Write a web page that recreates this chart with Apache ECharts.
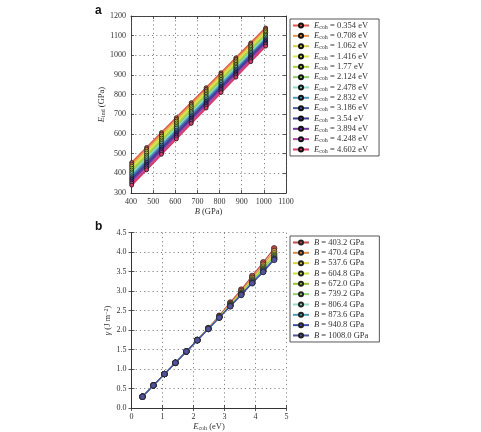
<!DOCTYPE html>
<html>
<head>
<meta charset="utf-8">
<script src="https://cdn.jsdelivr.net/npm/echarts@6/dist/echarts.min.js"></script>
<style>
  html, body { margin: 0; padding: 0; background: #fff; }
  #chart { width: 481px; height: 432px; }
</style>
</head>
<body>
<div id="chart"></div>
<script>
// panel a: indentation modulus vs bulk modulus, one series per cohesive energy
const bulkModuli = [403.2, 470.4, 537.6, 604.8, 672.0, 739.2, 806.4, 873.6, 940.8, 1008.0]
const cohLabels = ['0.354', '0.708', '1.062', '1.416', '1.77', '2.124', '2.478', '2.832', '3.186', '3.54', '3.894', '4.248', '4.602']
const eIndValues = [
  [455, 531, 607, 683, 759, 835, 911, 987, 1063, 1139],
  [445, 522, 598, 674, 750, 826, 903, 979, 1055, 1131],
  [436, 512, 589, 665, 742, 818, 894, 971, 1047, 1124],
  [426, 503, 579, 656, 733, 809, 886, 962, 1039, 1116],
  [417, 493, 570, 647, 724, 801, 878, 954, 1031, 1108],
  [407, 484, 561, 638, 715, 792, 869, 946, 1023, 1101],
  [398, 474, 552, 629, 707, 784, 861, 938, 1015, 1093],
  [388, 465, 543, 620, 698, 775, 853, 930, 1008, 1085],
  [378, 456, 534, 611, 689, 766, 844, 922, 1000, 1078],
  [369, 446, 524, 602, 680, 758, 836, 913, 992, 1070],
  [359, 437, 515, 593, 671, 749, 828, 905, 984, 1062],
  [350, 427, 506, 584, 663, 741, 819, 897, 976, 1055],
  [340, 418, 497, 575, 654, 732, 811, 889, 968, 1047]
]
const cohColors = ['#de5a4c', '#ec9048', '#d8d04a', '#dce84c', '#acd43c', '#8ecc6c', '#8edac8',
  '#4c9cc2', '#4a5ca4', '#3c3c92', '#7034a2', '#b84aa2', '#d83c68']

// panel b: surface energy vs cohesive energy, one series per bulk modulus
const cohEnergies = [0.354, 0.708, 1.062, 1.416, 1.77, 2.124, 2.478, 2.832, 3.186, 3.54, 3.894, 4.248, 4.602]
const bLabels = ['403.2', '470.4', '537.6', '604.8', '672.0', '739.2', '806.4', '873.6', '940.8', '1008.0']
const gammaValues = [
  [0.29, 0.58, 0.87, 1.16, 1.45, 1.75, 2.05, 2.37, 2.71, 3.04, 3.39, 3.74, 4.10],
  [0.29, 0.58, 0.87, 1.16, 1.45, 1.75, 2.05, 2.35, 2.68, 3.00, 3.34, 3.68, 4.03],
  [0.29, 0.58, 0.87, 1.16, 1.45, 1.74, 2.04, 2.34, 2.66, 2.97, 3.30, 3.63, 3.97],
  [0.29, 0.58, 0.87, 1.16, 1.45, 1.74, 2.04, 2.34, 2.65, 2.95, 3.28, 3.60, 3.93],
  [0.29, 0.58, 0.87, 1.16, 1.45, 1.74, 2.04, 2.33, 2.64, 2.94, 3.26, 3.57, 3.90],
  [0.29, 0.58, 0.87, 1.16, 1.45, 1.74, 2.03, 2.33, 2.63, 2.93, 3.24, 3.55, 3.87],
  [0.29, 0.58, 0.87, 1.16, 1.45, 1.74, 2.03, 2.33, 2.62, 2.92, 3.23, 3.53, 3.85],
  [0.29, 0.58, 0.87, 1.16, 1.45, 1.74, 2.03, 2.32, 2.62, 2.91, 3.22, 3.52, 3.83],
  [0.29, 0.58, 0.87, 1.16, 1.45, 1.74, 2.03, 2.32, 2.61, 2.91, 3.21, 3.50, 3.82],
  [0.29, 0.58, 0.87, 1.16, 1.45, 1.74, 2.03, 2.32, 2.61, 2.90, 3.20, 3.49, 3.80]
]
const bColors = ['#c24a48', '#e08a45', '#d8d142', '#cde245', '#97c236', '#94d06e', '#94d8c8',
  '#4a9db0', '#3c4fae', '#52529e']

const serif = 'Liberation Serif'
const gridLine = { show: true, lineStyle: { color: '#666', width: 0.8, type: [1.2, 3] } }
const frame = { show: true, lineStyle: { color: '#333', width: 0.9 } }
const label = { fontFamily: serif, fontSize: 8, color: '#333' }
const rich = {
  i: { fontFamily: serif, fontStyle: 'italic', fontSize: 8.5, lineHeight: 9, color: '#333' },
  s: { fontFamily: serif, fontSize: 6, lineHeight: 6, color: '#333', padding: [3, 0, 0, 0] },
  p: { fontFamily: serif, fontSize: 6, lineHeight: 6, color: '#333', padding: [0, 0, 3, 0] },
  t: { fontFamily: serif, fontSize: 8.5, lineHeight: 9, color: '#333' }
}
const baseText = { fontFamily: serif, fontSize: 8.5, lineHeight: 9, color: '#333', rich: rich }

function valueAxis(grid, pos, min, max, step, showLabel, digits) {
  return {
    type: 'value', gridIndex: grid, position: pos, min: min, max: max, interval: step,
    axisLine: frame,
    axisTick: { show: true, inside: true, length: 3, lineStyle: { color: '#333', width: 0.8 } },
    axisLabel: showLabel ? Object.assign({ margin: 5, formatter: v => digits ? v.toFixed(digits) : v }, label) : { show: false },
    splitLine: showLabel ? gridLine : { show: false }
  }
}

const series = []
cohLabels.forEach((name, k) => {
  series.push({
    name: name, type: 'line', xAxisIndex: 0, yAxisIndex: 0,
    data: bulkModuli.map((b, i) => [b, eIndValues[k][i]]),
    symbol: 'circle', symbolSize: 4,
    lineStyle: { width: 1.8, color: cohColors[k] },
    itemStyle: { color: cohColors[k], borderColor: '#111', borderWidth: 0.8 }
  })
})
bLabels.forEach((name, j) => {
  series.push({
    name: name, type: 'line', xAxisIndex: 2, yAxisIndex: 2,
    data: cohEnergies.map((e, k) => [e, gammaValues[j][k]]),
    symbol: 'circle', symbolSize: 5.5,
    lineStyle: { width: 1.2, color: bColors[j] },
    itemStyle: { color: bColors[j], borderColor: '#222', borderWidth: 0.7 }
  })
})

const legendBase = {
  orient: 'vertical', left: 290, selectedMode: false,
  itemWidth: 16, itemHeight: 5, itemGap: 1.33,
  backgroundColor: '#fff', borderColor: '#444', borderWidth: 0.9,
  textStyle: baseText
}

const option = {
  animation: false,
  backgroundColor: '#fff',
  grid: [
    { left: 131, top: 16, width: 155, height: 177, show: false },
    { left: 131.5, top: 232.7, width: 155, height: 176.6, show: false }
  ],
  xAxis: [
    Object.assign(valueAxis(0, 'bottom', 400, 1100, 100, true, 0), {
      name: '{i|B} {t|(GPa)}', nameLocation: 'middle', nameGap: 12, nameTextStyle: baseText
    }),
    valueAxis(0, 'top', 400, 1100, 100, false),
    Object.assign(valueAxis(1, 'bottom', 0, 5, 1, true, 0), {
      name: '{i|E}{s|coh} {t|(eV)}', nameLocation: 'middle', nameGap: 14, nameTextStyle: baseText
    }),
    valueAxis(1, 'top', 0, 5, 1, false)
  ],
  yAxis: [
    Object.assign(valueAxis(0, 'left', 300, 1200, 100, true, 0), {
      name: '{i|E}{s|ind} {t|(GPa)}', nameLocation: 'middle', nameGap: 24, nameTextStyle: baseText
    }),
    valueAxis(0, 'right', 300, 1200, 100, false),
    Object.assign(valueAxis(1, 'left', 0, 4.5, 0.5, true, 1), {
      name: '{i|γ} {t|(J m}{p|−2}{t|)}', nameLocation: 'middle', nameGap: 17, nameTextStyle: baseText
    }),
    valueAxis(1, 'right', 0, 4.5, 0.5, false)
  ],
  legend: [
    Object.assign({}, legendBase, {
      top: 19, padding: [2, 11, 2, 2], data: cohLabels,
      formatter: n => '{i|E}{s|coh} {t|= ' + n + ' eV}'
    }),
    Object.assign({}, legendBase, {
      top: 236, padding: [2, 11, 2, 2], data: bLabels,
      formatter: n => '{i|B} {t|= ' + n + ' GPa}'
    })
  ],
  graphic: [
    { type: 'text', left: 95, top: 5, style: { text: 'a', font: 'bold 12px "Liberation Sans"', fill: '#111' } },
    { type: 'text', left: 95, top: 221, style: { text: 'b', font: 'bold 12px "Liberation Sans"', fill: '#111' } }
  ],
  series: series
}

const chart = echarts.init(document.getElementById('chart'))
chart.setOption(option)
</script>
</body>
</html>
